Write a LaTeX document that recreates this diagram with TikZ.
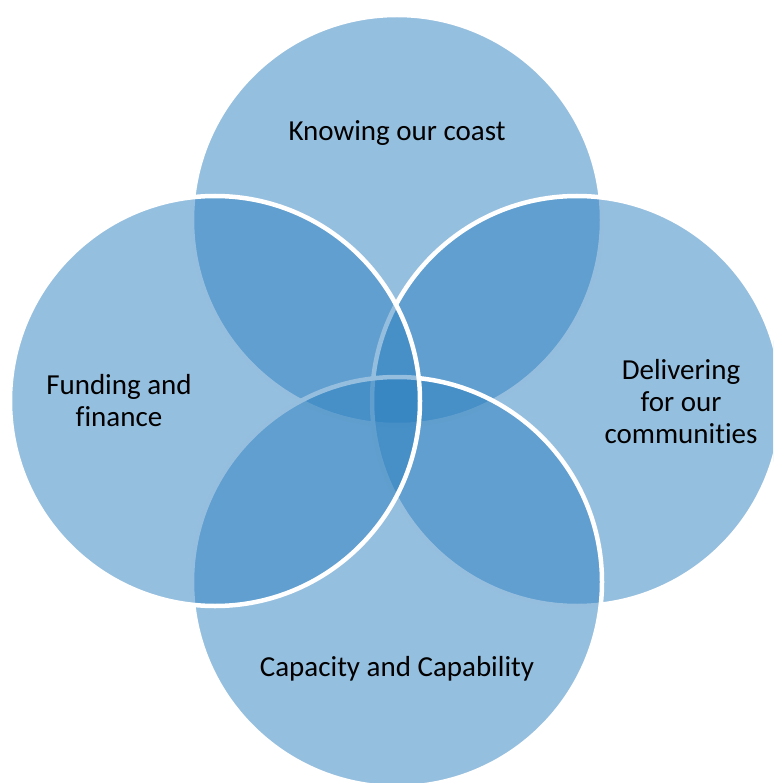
\documentclass[tikz,border=0pt]{standalone}
\usepackage{fontspec}
\setmainfont{Carlito}[Ligatures=NoCommon]
\definecolor{venn}{RGB}{44,127,191}
\begin{document}
\begin{tikzpicture}[x=1pt,y=-1pt,
  vcirc/.style={fill=venn,fill opacity=0.5,draw=white,line width=4.5pt},
  vlabel/.style={font=\fontsize{29}{32}\selectfont,align=center,text=black,inner sep=0pt}]
\useasboundingbox (0,0) rectangle (773,783);
\clip (0,0) rectangle (773,783);
\path[vcirc] (397,220) circle[radius=205pt];
\path[vcirc] (577,401) circle[radius=205pt];
\path[vcirc] (397,582) circle[radius=205pt];
\path[vcirc] (215,401) circle[radius=205pt];
\node[vlabel] (top) at (397,133) {Knowing our coast};
\node[vlabel] (left) at (119,401) {Funding and\\finance};
\node[vlabel] (right) at (681,402) {Delivering\\for our\\communities};
\node[vlabel] (bottom) at (397,669) {Capacity and Capability};
\end{tikzpicture}
\end{document}
